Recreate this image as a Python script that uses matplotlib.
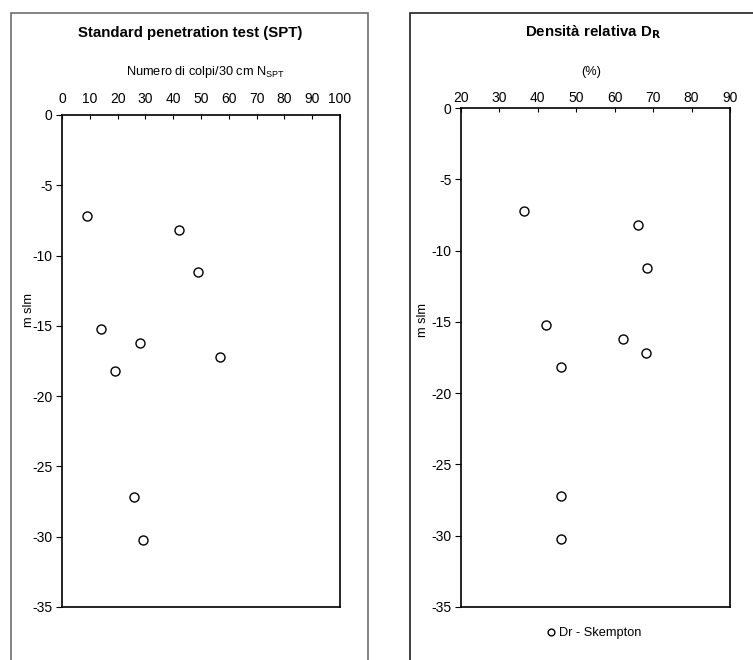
import matplotlib
matplotlib.use("Agg")
import matplotlib.pyplot as plt
from matplotlib.patches import Rectangle

plt.rcParams['font.family'] = ['Liberation Sans', 'DejaVu Sans']
plt.rcParams['axes.unicode_minus'] = False

depth = [-7.2, -8.2, -11.2, -15.2, -16.2, -17.2, -18.2, -27.2, -30.2]
nspt = [9, 42, 49, 14, 28, 57, 19, 26, 29]
dr = [36.5, 66, 68.3, 42.2, 62.2, 68.1, 46, 45.9, 46.1]
yticks = [0, -5, -10, -15, -20, -25, -30, -35]
xticks_spt = list(range(0, 101, 10))
xticks_dr = list(range(20, 91, 10))

W, H = 753, 660
fig = plt.figure(figsize=(W / 100, H / 100), dpi=100)

def rect(x0, y0, x1, y1):
    return [x0 / W, 1 - y1 / H, (x1 - x0) / W, (y1 - y0) / H]

# panel borders
fig.add_artist(Rectangle((11 / W, -0.05), (368 - 11) / W, 1.05 - 13 / H,
                         transform=fig.transFigure, fill=False,
                         edgecolor='#6e6e6e', lw=1.2))
fig.add_artist(Rectangle((410 / W, -0.05), 0.5, 1.05 - 13 / H,
                         transform=fig.transFigure, fill=False,
                         edgecolor='#202020', lw=1.2))

def style(ax, xticks, xlim, xpad):
    ax.set_xlim(*xlim)
    ax.set_ylim(-35, 0)
    ax.xaxis.tick_top()
    ax.set_xticks(xticks)
    ax.set_yticks(yticks)
    ax.tick_params(axis='x', direction='in', length=3, labelsize=10, pad=xpad,
                   width=0.8)
    ax.tick_params(axis='y', direction='out', length=4, labelsize=10, pad=3,
                   width=0.8)
    for s in ax.spines.values():
        s.set_linewidth(1.2)
        s.set_color('black')

ax1 = fig.add_axes(rect(62, 115, 340, 607))
ax1.plot(nspt, depth, 'o', mfc='white', mec='black', ms=6.5, mew=1.0,
         linestyle='none')
style(ax1, xticks_spt, (0, 100), 6.5)

ax2 = fig.add_axes(rect(461, 108, 730, 607))
ax2.plot(dr, depth, 'o', mfc='white', mec='black', ms=6.5, mew=1.0,
         linestyle='none', label='Dr - Skempton')
style(ax2, xticks_dr, (20, 90), 2)

fig.text(190 / W, 1 - 33 / H, 'Standard penetration test (SPT)',
         ha='center', va='center', fontsize=10.8, fontweight='bold')
fig.text(205 / W, 1 - 72 / H, r'Numero di colpi/30 cm N$_{\mathregular{SPT}}$',
         ha='center', va='center', fontsize=9.2)
fig.text(593 / W, 1 - 32 / H, r'Densità relativa D$_{\mathbf{R}}$',
         ha='center', va='center', fontsize=10.8, fontweight='bold')
fig.text(591 / W, 1 - 72 / H, '(%)', ha='center', va='center', fontsize=9.2)

fig.text(29 / W, 1 - 310 / H, 'm slm', rotation=90, ha='center', va='center',
         fontsize=9.2)
fig.text(423 / W, 1 - 320 / H, 'm slm', rotation=90, ha='center', va='center',
         fontsize=9.2)

leg = ax2.legend(loc='center', bbox_to_anchor=(593 / W, 1 - 633 / H),
                 bbox_transform=fig.transFigure, frameon=False, fontsize=9.2,
                 handletextpad=0.1, handlelength=1.0, markerscale=0.75)

fig.savefig('out.png', dpi=100)
